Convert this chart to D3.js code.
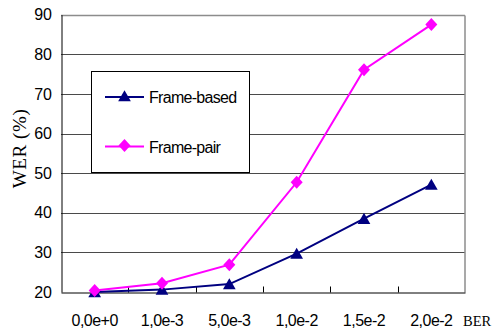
<!DOCTYPE html>
<html>
<head>
<meta charset="utf-8">
<script src="https://cdn.jsdelivr.net/npm/d3@7/dist/d3.min.js"></script>
<style>
  html, body { margin: 0; padding: 0; background: #fff; }
  svg { display: block; }
</style>
</head>
<body>
<svg id="chart" width="492" height="331"></svg>
<script>
// Bit error rates on the x axis
const categories = ["0,0e+0", "1,0e-3", "5,0e-3", "1,0e-2", "1,5e-2", "2,0e-2"];
// Word error rate (%) per scheme
const frameBased = [20.0, 20.6, 22.0, 29.7, 38.5, 47.1];
const framePair  = [20.4, 22.2, 26.9, 47.7, 76.1, 87.5];
const yTicks = [20, 30, 40, 50, 60, 70, 80, 90];
const seriesNames = ["Frame-based", "Frame-pair"];

const svg = d3.select("#chart");
const plot = { left: 61, right: 465, top: 14.7, bottom: 292 };

const x = d3.scaleBand().domain(categories).range([plot.left, plot.right]).padding(0);
const y = d3.scaleLinear().domain([20, 90]).range([plot.bottom, plot.top]);
const cx = d => x(d) + x.bandwidth() / 2;

const axisFont = "'Liberation Sans', Arial, sans-serif";
const serifFont = "'Liberation Serif', 'Times New Roman', serif";

// Horizontal gridlines
svg.append("g")
  .selectAll("line")
  .data(yTicks.filter(t => t > 20 && t < 90))
  .join("line")
  .attr("x1", plot.left).attr("x2", plot.right)
  .attr("y1", d => Math.round(y(d)) + 0.5).attr("y2", d => Math.round(y(d)) + 0.5)
  .attr("stroke", "#4a4a4a").attr("stroke-width", 1);

// Plot frame: grey top/right, black left/bottom
const frameTop = Math.round(plot.top) + 0.5, frameBot = Math.round(plot.bottom) + 0.5;
svg.append("line").attr("x1", plot.left).attr("x2", plot.right).attr("y1", frameTop).attr("y2", frameTop)
  .attr("stroke", "#8c8c8c").attr("stroke-width", 1.5);
svg.append("line").attr("x1", plot.right).attr("x2", plot.right).attr("y1", frameTop).attr("y2", frameBot)
  .attr("stroke", "#8c8c8c").attr("stroke-width", 1.5);

// Y axis
const yAxis = d3.axisLeft(y).tickValues(yTicks).tickSize(0).tickPadding(10).tickFormat(d3.format("d"));
const gy = svg.append("g").attr("transform", `translate(${plot.left + 0.5},0)`).call(yAxis);
gy.select(".domain").attr("stroke", "#000").attr("stroke-width", 1);
gy.selectAll("text").attr("font-family", axisFont).attr("font-size", 16).attr("fill", "#000")
  .attr("letter-spacing", "-0.3px");

// X axis with inward ticks at category boundaries
const xAxis = d3.axisBottom(x).tickSize(0).tickPadding(22);
const gx = svg.append("g").attr("transform", `translate(0,${frameBot})`).call(xAxis);
gx.select(".domain").attr("stroke", "#000").attr("stroke-width", 1);
gx.selectAll("text").attr("font-family", axisFont).attr("font-size", 16).attr("fill", "#000")
  .attr("letter-spacing", "-0.5px");
gx.append("g").selectAll("line")
  .data(categories.slice(1))
  .join("line")
  .attr("x1", d => Math.round(x(d)) + 0.5).attr("x2", d => Math.round(x(d)) + 0.5)
  .attr("y1", 0).attr("y2", -6)
  .attr("stroke", "#000");

// Axis titles
svg.append("text").attr("x", 463).attr("y", 326)
  .attr("font-family", serifFont).attr("font-size", 14.5).attr("fill", "#000").text("BER");
svg.append("text")
  .attr("transform", `translate(26,148.5) rotate(-90)`)
  .attr("text-anchor", "middle")
  .attr("font-family", serifFont).attr("font-size", 19).attr("fill", "#000")
  .attr("letter-spacing", "0.6px")
  .text("WER (%)");

// Markers
const triPath = d3.symbol().type(d3.symbolTriangle).size(70)();
const diaPath = "M0,-6.5L6,0L0,6.5L-6,0Z";

const line = d3.line().x((d, i) => cx(categories[i])).y(d => y(d));

const series = [
  { name: seriesNames[0], values: frameBased, color: "#000080", marker: triPath, dy: 1.5 },
  { name: seriesNames[1], values: framePair,  color: "#ff00ff", marker: diaPath, dy: 0 }
];

series.forEach(s => {
  svg.append("path").datum(s.values).attr("d", line)
    .attr("fill", "none").attr("stroke", s.color).attr("stroke-width", 2);
  svg.append("g").selectAll("path")
    .data(s.values)
    .join("path")
    .attr("d", s.marker)
    .attr("transform", (d, i) => `translate(${cx(categories[i])},${y(d) + s.dy})`)
    .attr("fill", s.color);
});

// Legend
const legend = svg.append("g");
legend.append("rect").attr("x", 91.5).attr("y", 71.5).attr("width", 158).attr("height", 101)
  .attr("fill", "#fff").attr("stroke", "#000").attr("stroke-width", 1);
const legendRows = [97, 146.5];
series.forEach((s, i) => {
  const ly = legendRows[i];
  legend.append("line").attr("x1", 105).attr("x2", 144).attr("y1", ly).attr("y2", ly)
    .attr("stroke", s.color).attr("stroke-width", 2);
  legend.append("path").attr("d", s.marker)
    .attr("transform", `translate(124.5,${ly + s.dy - 1})`).attr("fill", s.color);
  legend.append("text").attr("x", 149).attr("y", ly + 6)
    .attr("font-family", axisFont).attr("font-size", 16).attr("fill", "#000")
    .attr("letter-spacing", "-0.7px")
    .text(s.name);
});
</script>
</body>
</html>
